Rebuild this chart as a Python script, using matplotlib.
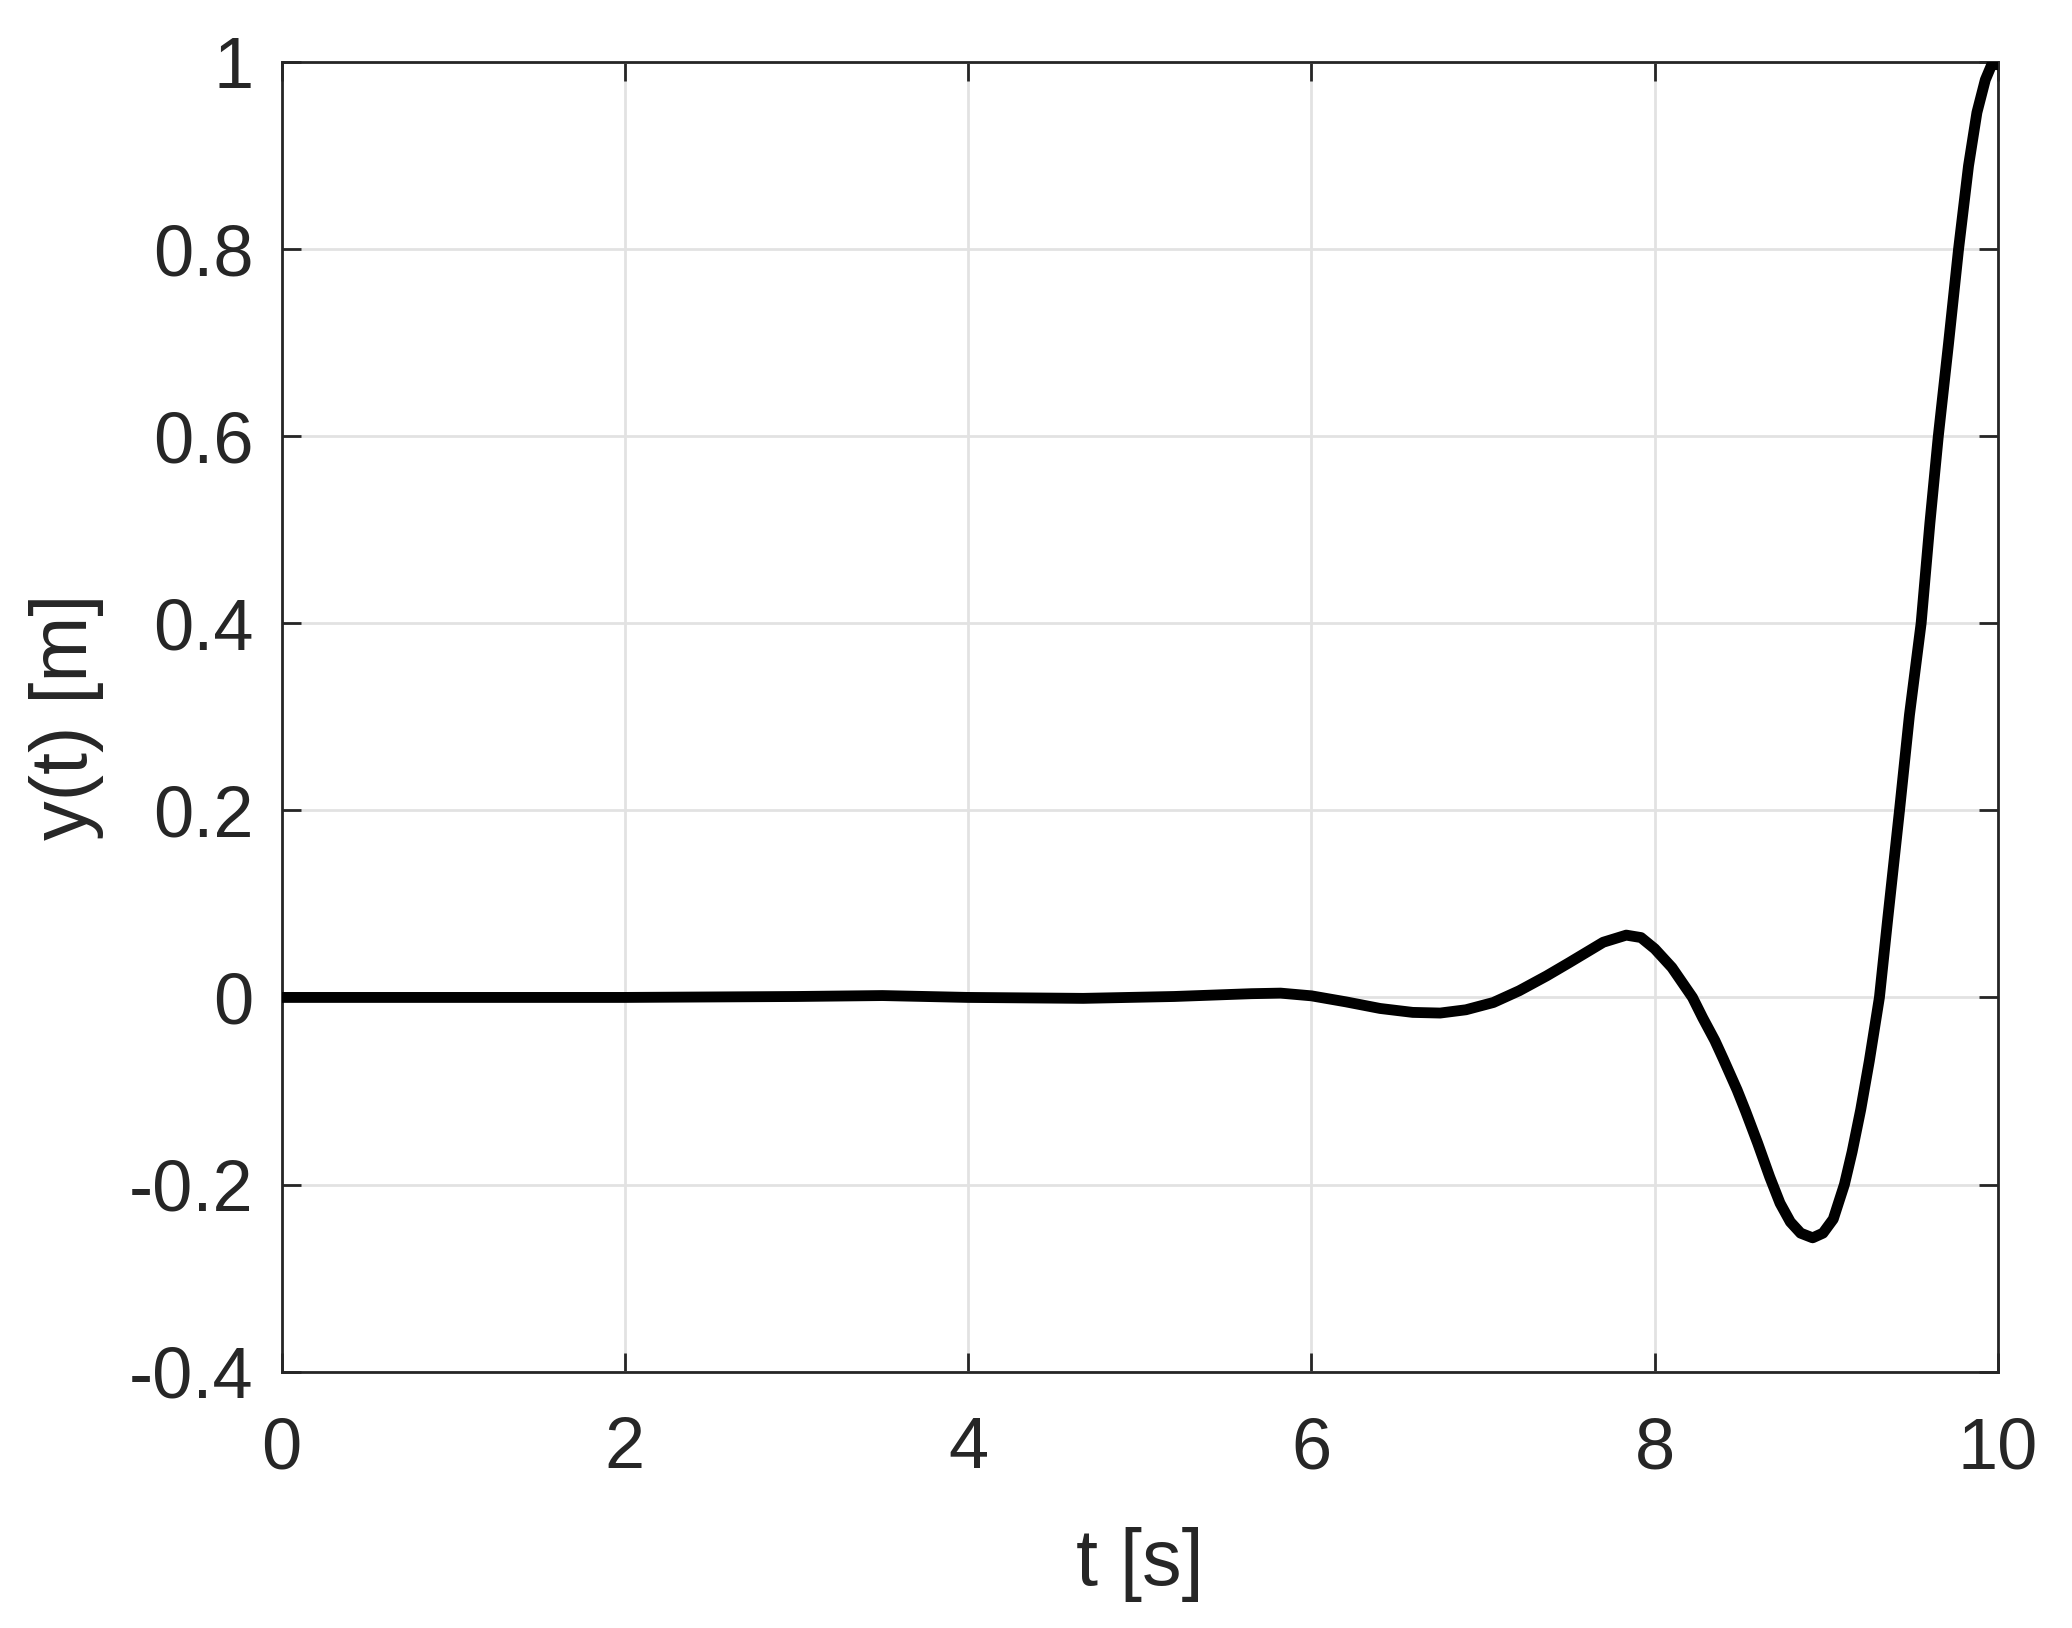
import matplotlib
matplotlib.use("Agg")
import matplotlib.pyplot as plt

# --- data (response y(t)) ---
t = [0.0, 1.0, 2.0, 3.0, 3.5, 4.0, 4.67, 5.2, 5.65, 5.82, 6.0, 6.2, 6.4,
     6.59, 6.75, 6.9, 7.06, 7.21, 7.37, 7.5, 7.6, 7.7, 7.834, 7.92, 8.0,
     8.1, 8.22, 8.28, 8.35, 8.4, 8.48, 8.53, 8.6, 8.67, 8.73, 8.79, 8.85,
     8.92, 8.98, 9.04, 9.105, 9.15, 9.2, 9.25, 9.309, 9.358, 9.426, 9.484,
     9.552, 9.603, 9.652, 9.711, 9.77, 9.828, 9.877, 9.926, 9.965, 10.0]
y = [0.0, 0.0, 0.0, 0.001, 0.002, 0.0, -0.001, 0.001, 0.004, 0.0046, 0.0017,
     -0.0047, -0.0118, -0.016, -0.0167, -0.0132, -0.0054, 0.0071, 0.023,
     0.037, 0.048, 0.059, 0.0666, 0.064, 0.052, 0.032, 0.0, -0.022, -0.046,
     -0.066, -0.099, -0.122, -0.156, -0.192, -0.22, -0.24, -0.252, -0.257,
     -0.252, -0.237, -0.2, -0.165, -0.12, -0.068, 0.0, 0.085, 0.2, 0.302,
     0.4, 0.507, 0.6, 0.698, 0.8, 0.889, 0.946, 0.981, 0.998, 0.997]

xticks = [0, 2, 4, 6, 8, 10]
yticks = [-0.4, -0.2, 0, 0.2, 0.4, 0.6, 0.8, 1]
ytick_labels = ["-0.4", "-0.2", "0", "0.2", "0.4", "0.6", "0.8", "1"]

INK = "#262626"
plt.rcParams["font.family"] = ["Liberation Sans", "DejaVu Sans"]

fig = plt.figure(figsize=(10.36, 8.14), dpi=200)
ax = fig.add_axes([0.1359, 0.1575, 0.8284, 0.8044])

ax.plot(t, y, color="black", lw=3.9, solid_joinstyle="round",
        solid_capstyle="round", zorder=3)

ax.set_xlim(0, 10)
ax.set_ylim(-0.4, 1)
ax.set_xticks(xticks)
ax.set_xticklabels([str(v) for v in xticks])
ax.set_yticks(yticks)
ax.set_yticklabels(ytick_labels)

ax.grid(True, color="#e2e2e2", lw=1.0)
ax.set_axisbelow(True)
for s in ax.spines.values():
    s.set_color(INK); s.set_linewidth(1.0)
ax.tick_params(direction="in", length=6.7, width=1.0, color=INK,
               labelcolor=INK, labelsize=26, top=True, right=True)
ax.tick_params(axis="x", pad=16)
ax.tick_params(axis="y", pad=10)

ax.set_xlabel("t [s]", fontsize=28.5, color=INK, labelpad=16)
ax.set_ylabel("y(t) [m]", fontsize=28.5, color=INK, labelpad=9)

fig.savefig("out.png", dpi=200, facecolor="white")
